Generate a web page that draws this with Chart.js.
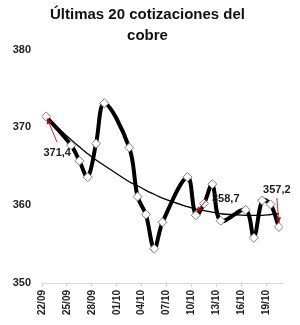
<!DOCTYPE html>
<html>
<head>
<meta charset="utf-8">
<script src="https://cdn.jsdelivr.net/npm/chart.js@4"></script>
<style>
  html, body { margin: 0; padding: 0; background: #fff; }
  #grafico { display: block; }
</style>
</head>
<body>
<canvas id="grafico" width="300" height="325"></canvas>
<script>
// Días desde el 22/09 (posición de cada cotización)
const dias = [0, 3, 4, 5, 6, 7, 10, 11, 12, 13, 14, 17, 18, 19, 20, 21, 24, 25, 26, 27, 28];
// Cotizaciones del cobre
const cotizaciones = [371.4, 367.7, 365.7, 363.6, 367.9, 373.1, 367.4, 361.1, 358.8, 354.4, 357.8,
                      363.6, 358.7, 360.2, 362.7, 358.0, 359.4, 355.8, 360.6, 360.1, 357.2];
// Línea de tendencia
const tendencia = [371.3, 368.4, 367.5, 366.6, 365.8, 365.1, 363.0, 362.5, 361.9, 361.4, 360.9,
                   359.8, 359.5, 359.3, 359.1, 358.9, 358.7, 358.7, 358.7, 358.8, 358.9];
// Etiquetas del eje X (cada 3 días)
const etiquetasX = ["22/09", "25/09", "28/09", "01/10", "04/10", "07/10", "10/10", "13/10", "16/10", "19/10"];
// Puntos con etiqueta de valor
const etiquetados = [0, 12, 20];

const posTicks = etiquetasX.map((_, i) => -0.5 + i * 3);

// Flechas rojas y etiquetas
const etiquetasPlugin = {
  id: "etiquetas",
  afterDatasetsDraw(chart) {
    const ctx = chart.ctx;
    const meta = chart.getDatasetMeta(0);
    const ajustes = {
      0:  { lx: 11, ly: 37, ax: 11, ay: 26, bx: 1, by: 2 },
      12: { lx: 30, ly: -16, ax: 11, ay: -16, bx: 1, by: -3 },
      20: { lx: -2, ly: -37, ax: -2, ay: -29, bx: 0, by: -4 }
    };
    etiquetados.forEach(i => {
      const p = meta.data[i];
      const a = ajustes[i];
      const x1 = p.x + a.ax, y1 = p.y + a.ay;
      const x2 = p.x + a.bx, y2 = p.y + a.by;
      ctx.save();
      ctx.strokeStyle = "#e0202a";
      ctx.fillStyle = "#c00000";
      ctx.lineWidth = 1;
      ctx.beginPath();
      ctx.moveTo(x1, y1);
      ctx.lineTo(x2, y2);
      ctx.stroke();
      const ang = Math.atan2(y2 - y1, x2 - x1);
      ctx.beginPath();
      ctx.moveTo(x2, y2);
      ctx.lineTo(x2 - 6 * Math.cos(ang - 0.45), y2 - 6 * Math.sin(ang - 0.45));
      ctx.lineTo(x2 - 6 * Math.cos(ang + 0.45), y2 - 6 * Math.sin(ang + 0.45));
      ctx.closePath();
      ctx.fill();
      ctx.fillStyle = "#222";
      ctx.font = "bold 11px 'Liberation Sans', Arial, sans-serif";
      ctx.textAlign = "center";
      ctx.textBaseline = "middle";
      ctx.fillText(cotizaciones[i].toFixed(1).replace(".", ","), p.x + a.lx, p.y + a.ly);
      ctx.restore();
    });
  }
};

new Chart(document.getElementById("grafico"), {
  type: "line",
  data: {
    datasets: [
      {
        label: "Cobre",
        data: dias.map((d, i) => ({ x: d, y: cotizaciones[i] })),
        borderColor: "#000",
        borderWidth: 4,
        tension: 0.35,
        pointStyle: "rectRot",
        pointRadius: 4.5,
        pointBackgroundColor: "#fff",
        pointBorderColor: "#7f7f7f",
        pointBorderWidth: 1
      },
      {
        label: "Tendencia",
        data: dias.map((d, i) => ({ x: d, y: tendencia[i] })),
        borderColor: "#000",
        borderWidth: 1.3,
        tension: 0.4,
        pointRadius: 0
      }
    ]
  },
  options: {
    responsive: false,
    animation: false,
    layout: { padding: { left: 12, right: 17, top: 0, bottom: 0 } },
    plugins: {
      legend: { display: false },
      tooltip: { enabled: false },
      title: {
        display: true,
        text: ["Últimas 20 cotizaciones del", "cobre"],
        color: "#111",
        font: { family: "'Liberation Sans', Arial, sans-serif", size: 15, weight: "bold", lineHeight: 1.35 },
        padding: { top: 5, bottom: 4 }
      }
    },
    scales: {
      x: {
        type: "linear",
        min: -0.5,
        max: 28.5,
        afterBuildTicks: axis => { axis.ticks = posTicks.map(v => ({ value: v })); },
        afterFit: axis => { axis.height = 42; },
        ticks: {
          autoSkip: false,
          minRotation: 90,
          maxRotation: 90,
          padding: 3,
          color: "#222",
          font: { family: "'Liberation Sans', Arial, sans-serif", size: 10, weight: "bold" },
          callback: (v, i) => etiquetasX[i]
        },
        grid: { drawOnChartArea: false, drawTicks: true, tickLength: 4, color: "#d9d9d9" },
        border: { color: "#d9d9d9" }
      },
      y: {
        min: 350,
        max: 380,
        afterFit: axis => { axis.width = 30; },
        ticks: {
          stepSize: 10,
          padding: 11,
          color: "#222",
          font: { family: "'Liberation Sans', Arial, sans-serif", size: 11, weight: "bold" }
        },
        grid: { display: false, drawTicks: false },
        border: { display: false }
      }
    }
  },
  plugins: [etiquetasPlugin]
});
</script>
</body>
</html>
